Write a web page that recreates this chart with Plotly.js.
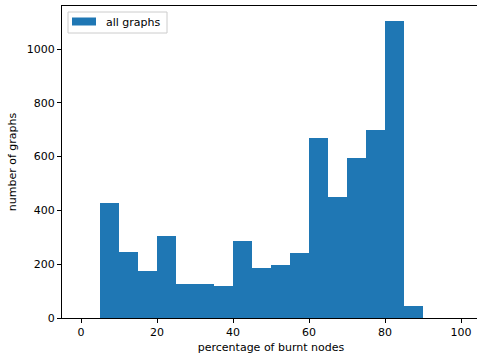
<!DOCTYPE html>
<html>
<head>
<meta charset="utf-8">
<script src="https://cdn.plot.ly/plotly-3.0.1.min.js"></script>
<style>html,body{margin:0;padding:0;overflow:hidden;background:#fff;}</style>
</head>
<body>
<div id="chart" style="width:480px;height:356px;"></div>
<script>
// Histogram bins (left edges, width 5) and counts
const binStarts = [0, 5, 10, 15, 20, 25, 30, 35, 40, 45, 50, 55, 60, 65, 70, 75, 80, 85, 90, 95];
const binWidth = 5;
const counts = [0, 428, 245, 175, 305, 126, 126, 119, 287, 186, 197, 242, 670, 450, 595, 700, 1105, 45, 0, 0];
const seriesName = "all graphs";
const xTicks = [0, 20, 40, 60, 80, 100];
const yTicks = [0, 200, 400, 600, 800, 1000];

const W = 480, H = 356, ML = 62, MR = 0, MT = 6, MB = 38;
const pw = W - ML - MR, ph = H - MT - MB;
const px = v => (v - ML) / pw;          // pixel x -> paper x
const py = v => (H - MB - v) / ph;      // pixel y -> paper y

const font = {family: "DejaVu Sans, sans-serif", size: 11, color: "#000"};
const barColor = "#1f77b4";

const trace = {
  type: "bar",
  x: binStarts.map(s => s + binWidth / 2),
  y: counts,
  width: binStarts.map(() => binWidth),
  name: seriesName,
  marker: {color: barColor, line: {width: 0}},
  showlegend: false,
  hoverinfo: "x+y"
};

const layout = {
  width: W,
  height: H,
  margin: {l: ML, r: MR, t: MT, b: MB, pad: 0},
  paper_bgcolor: "#fff",
  plot_bgcolor: "#fff",
  font: font,
  bargap: 0,
  showlegend: false,
  xaxis: {
    range: [-5, 105],
    tickvals: xTicks,
    ticktext: xTicks.map(String),
    ticks: "outside", ticklen: 4, tickwidth: 1, tickcolor: "#000",
    showline: true, linecolor: "#000", linewidth: 1, mirror: true,
    showgrid: false, zeroline: false,
    title: {text: "percentage of burnt nodes", font: font, standoff: 5},
    tickfont: font
  },
  yaxis: {
    range: [0, 1160],
    tickvals: yTicks,
    ticktext: yTicks.map(String),
    ticks: "outside", ticklen: 4, tickwidth: 1, tickcolor: "#000",
    showline: true, linecolor: "#000", linewidth: 1, mirror: true,
    showgrid: false, zeroline: false,
    title: {text: "number of graphs", font: font, standoff: 7},
    tickfont: font
  },
  shapes: [
    {type: "rect", xref: "paper", yref: "paper",
     x0: px(68), x1: px(167), y0: py(33), y1: py(12),
     fillcolor: "rgba(255,255,255,0.8)", line: {color: "#cccccc", width: 1}},
    {type: "rect", xref: "paper", yref: "paper",
     x0: px(72), x1: px(96), y0: py(25.5), y1: py(17.5),
     fillcolor: barColor, line: {width: 0}}
  ],
  annotations: [
    {xref: "paper", yref: "paper", x: px(104), y: py(22), xanchor: "left", yanchor: "middle",
     text: seriesName, showarrow: false, font: font}
  ]
};

Plotly.newPlot("chart", [trace], layout, {displayModeBar: false, staticPlot: true});
</script>
</body>
</html>
